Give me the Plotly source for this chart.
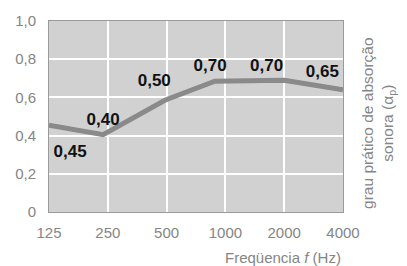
import plotly.graph_objects as go

freq_labels = ["125", "250", "500", "1000", "2000", "4000"]
y_ticks = [0, 0.2, 0.4, 0.6, 0.8, 1.0]
y_tick_labels = ["0", "0,2", "0,4", "0,6", "0,8", "1,0"]

# line vertices (position along the category axis, value)
line_x = [0, 0.92, 1.97, 2.82, 4.0, 5.0]
line_y = [0.455, 0.405, 0.585, 0.685, 0.69, 0.64]

# data labels
label_text = ["0,45", "0,40", "0,50", "0,70", "0,70", "0,65"]
label_x = [0.36, 0.92, 1.79, 2.74, 3.7, 4.65]
label_y = [0.31, 0.48, 0.68, 0.76, 0.76, 0.73]

FONT = "Liberation Sans, Arial, sans-serif"
GRAY = "#858585"

fig = go.Figure()
fig.add_trace(go.Scatter(x=line_x, y=line_y, mode="lines",
                         line=dict(color="#8a8a8a", width=5), hoverinfo="skip",
                         showlegend=False))
fig.add_trace(go.Scatter(x=label_x, y=label_y, mode="text", text=label_text,
                         textfont=dict(family=FONT, size=17, color="#111111", weight="bold"),
                         showlegend=False, hoverinfo="skip"))

fig.update_layout(
    width=407, height=266,
    margin=dict(l=49, r=64, t=17, b=54),
    paper_bgcolor="white", plot_bgcolor="#d1d1d1",
    font=dict(family=FONT, size=15, color=GRAY),
    xaxis=dict(range=[0, 5], tickmode="array", tickvals=list(range(6)), ticktext=freq_labels,
               showgrid=True, gridcolor="white", gridwidth=2, zeroline=False,
               showline=True, linecolor="#9a9a9a", linewidth=1, mirror=True,
               ticks="outside", ticklen=7, tickcolor="rgba(0,0,0,0)",
               tickfont=dict(family=FONT, size=15, color=GRAY), fixedrange=True),
    yaxis=dict(range=[0, 1], tickmode="array", tickvals=y_ticks, ticktext=y_tick_labels,
               showgrid=True, gridcolor="white", gridwidth=2, zeroline=False,
               showline=True, linecolor="#9a9a9a", linewidth=1, mirror=True,
               ticks="outside", ticklen=9, tickcolor="rgba(0,0,0,0)",
               tickfont=dict(family=FONT, size=15, color=GRAY), fixedrange=True),
    annotations=[
        dict(xref="paper", yref="paper", x=1.0, y=-0.24, xanchor="right", yanchor="middle",
             text="Freqüencia <i>f</i> (Hz)", showarrow=False,
             font=dict(family=FONT, size=15, color=GRAY)),
        dict(xref="paper", yref="paper", x=1.045, y=0.465, xanchor="left", yanchor="middle",
             text="grau prático de absorção<br>sonora (α<sub>p</sub>)", textangle=-90,
             showarrow=False, font=dict(family=FONT, size=15.5, color=GRAY)),
    ],
)

fig.write_html("out.html", config={"displayModeBar": False},
               post_script="document.body.style.margin='0';document.body.style.overflow='hidden';")
